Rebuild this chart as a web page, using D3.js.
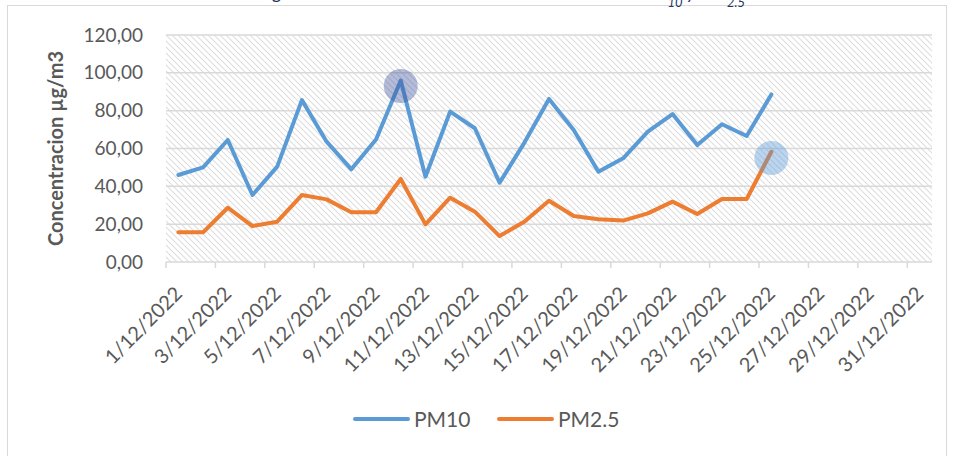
<!DOCTYPE html>
<html>
<head>
<meta charset="utf-8">
<script src="https://cdn.jsdelivr.net/npm/d3@7"></script>
<style>
  body { margin: 0; background: #fff; }
  text { font-family: Lato, "Open Sans", sans-serif; }
</style>
</head>
<body>
<script>
// categories (one per day of december)
var days = ["1/12/2022", "2/12/2022", "3/12/2022", "4/12/2022", "5/12/2022", "6/12/2022",
  "7/12/2022", "8/12/2022", "9/12/2022", "10/12/2022", "11/12/2022", "12/12/2022",
  "13/12/2022", "14/12/2022", "15/12/2022", "16/12/2022", "17/12/2022", "18/12/2022",
  "19/12/2022", "20/12/2022", "21/12/2022", "22/12/2022", "23/12/2022", "24/12/2022",
  "25/12/2022", "26/12/2022", "27/12/2022", "28/12/2022", "29/12/2022", "30/12/2022",
  "31/12/2022"];

// series values, ug/m3 (only up to 25/12)
var pm10 = [46.0, 50.0, 64.5, 35.4, 50.4, 85.6, 63.6, 49.0, 64.8, 95.9, 45.1, 79.5, 70.7,
  41.9, 63.0, 86.2, 69.8, 47.7, 54.8, 68.9, 78.2, 61.8, 72.8, 66.6, 88.6];
var pm25 = [15.7, 15.7, 28.7, 19.0, 21.3, 35.4, 33.1, 26.3, 26.3, 43.9, 19.9, 34.0, 26.6,
  13.7, 21.3, 32.4, 24.3, 22.6, 21.9, 25.7, 31.9, 25.4, 33.3, 33.3, 58.3];

var yTicks = [0, 20, 40, 60, 80, 100, 120];
var xLabels = ["1/12/2022", "3/12/2022", "5/12/2022", "7/12/2022", "9/12/2022", "11/12/2022",
  "13/12/2022", "15/12/2022", "17/12/2022", "19/12/2022", "21/12/2022", "23/12/2022",
  "25/12/2022", "27/12/2022", "29/12/2022", "31/12/2022"];

// highlighted spots (day, value)
var marks = [["10/12/2022", 93], ["25/12/2022", 55]];

var svgWidth = 954;
var svgHeight = 456;

var margin = {
  top: 35,
  right: 22,
  bottom: 194,
  left: 166
};

var width = svgWidth - margin.left - margin.right;
var height = svgHeight - margin.top - margin.bottom;

var svg = d3.select("body")
  .append("svg")
  .attr("width", svgWidth)
  .attr("height", svgHeight);

// hatch fill for the plot area
var pat = svg.append("defs").append("pattern")
  .attr("id", "hatch")
  .attr("patternUnits", "userSpaceOnUse")
  .attr("width", 6)
  .attr("height", 6);
pat.append("path")
  .attr("d", "M-1,-1L7,7M-1,5L1,7M5,-1L7,1")
  .attr("stroke", "#dedede")
  .attr("stroke-width", 1.1);

// chart frame
svg.append("rect")
  .attr("x", 7.5).attr("y", 5.5)
  .attr("width", 939).attr("height", 470)
  .attr("fill", "none")
  .attr("stroke", "#d9d9d9");

// caption, mostly cut off at the top (as in the source)
var cap = svg.append("text")
  .attr("x", 745).attr("y", -1)
  .attr("text-anchor", "end")
  .attr("font-size", "19px")
  .attr("font-style", "italic")
  .attr("fill", "#1f3864");
cap.append("tspan").text("Figura 3. Variación de la concentración diaria de PM");
cap.append("tspan").attr("baseline-shift", "sub").attr("font-size", "13px").text("10");
cap.append("tspan").text(" y PM");
cap.append("tspan").attr("baseline-shift", "sub").attr("font-size", "13px").text("2.5");

var g = svg.append("g")
  .attr("transform", "translate(" + margin.left + "," + margin.top + ")");

var x = d3.scaleBand()
  .domain(days)
  .range([0, width]);

var y = d3.scaleLinear()
  .domain([0, 120])
  .range([height, 0]);

g.append("rect")
  .attr("width", width)
  .attr("height", height)
  .attr("fill", "url(#hatch)");

// gridlines
g.append("g")
  .selectAll("line")
  .data(yTicks.slice(1))
  .enter()
  .append("line")
  .attr("x1", 0).attr("x2", width)
  .attr("y1", d => y(d)).attr("y2", d => y(d))
  .attr("stroke", "#d9d9d9")
  .attr("stroke-width", 1.5);

// y axis
var yAxis = g.append("g")
  .call(d3.axisLeft(y).tickValues(yTicks).tickSize(0).tickPadding(23)
    .tickFormat(d => d3.format(".2f")(d).replace(".", ",")));
yAxis.select(".domain").remove();
yAxis.selectAll("text")
  .attr("font-size", "19px")
  .attr("fill", "#595959")
  .style("font-family", "Lato, sans-serif");

// x axis line and ticks (every 2nd category boundary)
g.append("line")
  .attr("x1", 0).attr("x2", width)
  .attr("y1", height).attr("y2", height)
  .attr("stroke", "#d9d9d9")
  .attr("stroke-width", 1.5);

g.append("g")
  .selectAll("line")
  .data(xLabels)
  .enter()
  .append("line")
  .attr("x1", d => x(d)).attr("x2", d => x(d))
  .attr("y1", height).attr("y2", height + 6)
  .attr("stroke", "#d9d9d9")
  .attr("stroke-width", 1.5);

g.append("g")
  .selectAll("text")
  .data(xLabels)
  .enter()
  .append("text")
  .attr("transform", d => "translate(" + (x(d) + x.bandwidth() / 2 + 5) + "," + (height + 33) + ") rotate(-45)")
  .attr("text-anchor", "end")
  .attr("font-size", "20px")
  .attr("fill", "#595959")
  .text(d => d);

// lines
var line = d3.line()
  .x((d, i) => x(days[i]) + x.bandwidth() / 2)
  .y(d => y(d));

g.append("path")
  .datum(pm10)
  .attr("d", line)
  .attr("fill", "none")
  .attr("stroke", "#5b9bd5")
  .attr("stroke-width", 4)
  .attr("stroke-linejoin", "round")
  .attr("stroke-linecap", "round");

g.append("path")
  .datum(pm25)
  .attr("d", line)
  .attr("fill", "none")
  .attr("stroke", "#ed7d31")
  .attr("stroke-width", 4)
  .attr("stroke-linejoin", "round")
  .attr("stroke-linecap", "round");

// highlight circles
g.append("g")
  .selectAll("circle")
  .data(marks)
  .enter()
  .append("circle")
  .attr("cx", d => x(d[0]) + x.bandwidth() / 2)
  .attr("cy", d => y(d[1]))
  .attr("r", 17)
  .attr("fill", (d, i) => i == 0 ? "#3b4e9a" : "#5b9bd5")
  .attr("opacity", (d, i) => i == 0 ? 0.38 : 0.42);

// legend
var legend = svg.append("g");
var items = [["PM10", "#5b9bd5", 355], ["PM2.5", "#ed7d31", 499]];
items.forEach(function(it) {
  legend.append("line")
    .attr("x1", it[2]).attr("x2", it[2] + 53)
    .attr("y1", 419).attr("y2", 419)
    .attr("stroke", it[1])
    .attr("stroke-width", 4)
    .attr("stroke-linecap", "round");
  legend.append("text")
    .attr("x", it[2] + 59)
    .attr("y", 427)
    .attr("font-size", "21px")
    .attr("fill", "#595959")
    .text(it[0]);
});

// y axis title
svg.append("text")
  .attr("transform", "translate(63," + (margin.top + height / 2) + ") rotate(-90)")
  .attr("text-anchor", "middle")
  .attr("font-size", "20px")
  .attr("font-weight", "bold")
  .attr("fill", "#595959")
  .text("Concentracion µg/m3");
</script>
</body>
</html>
